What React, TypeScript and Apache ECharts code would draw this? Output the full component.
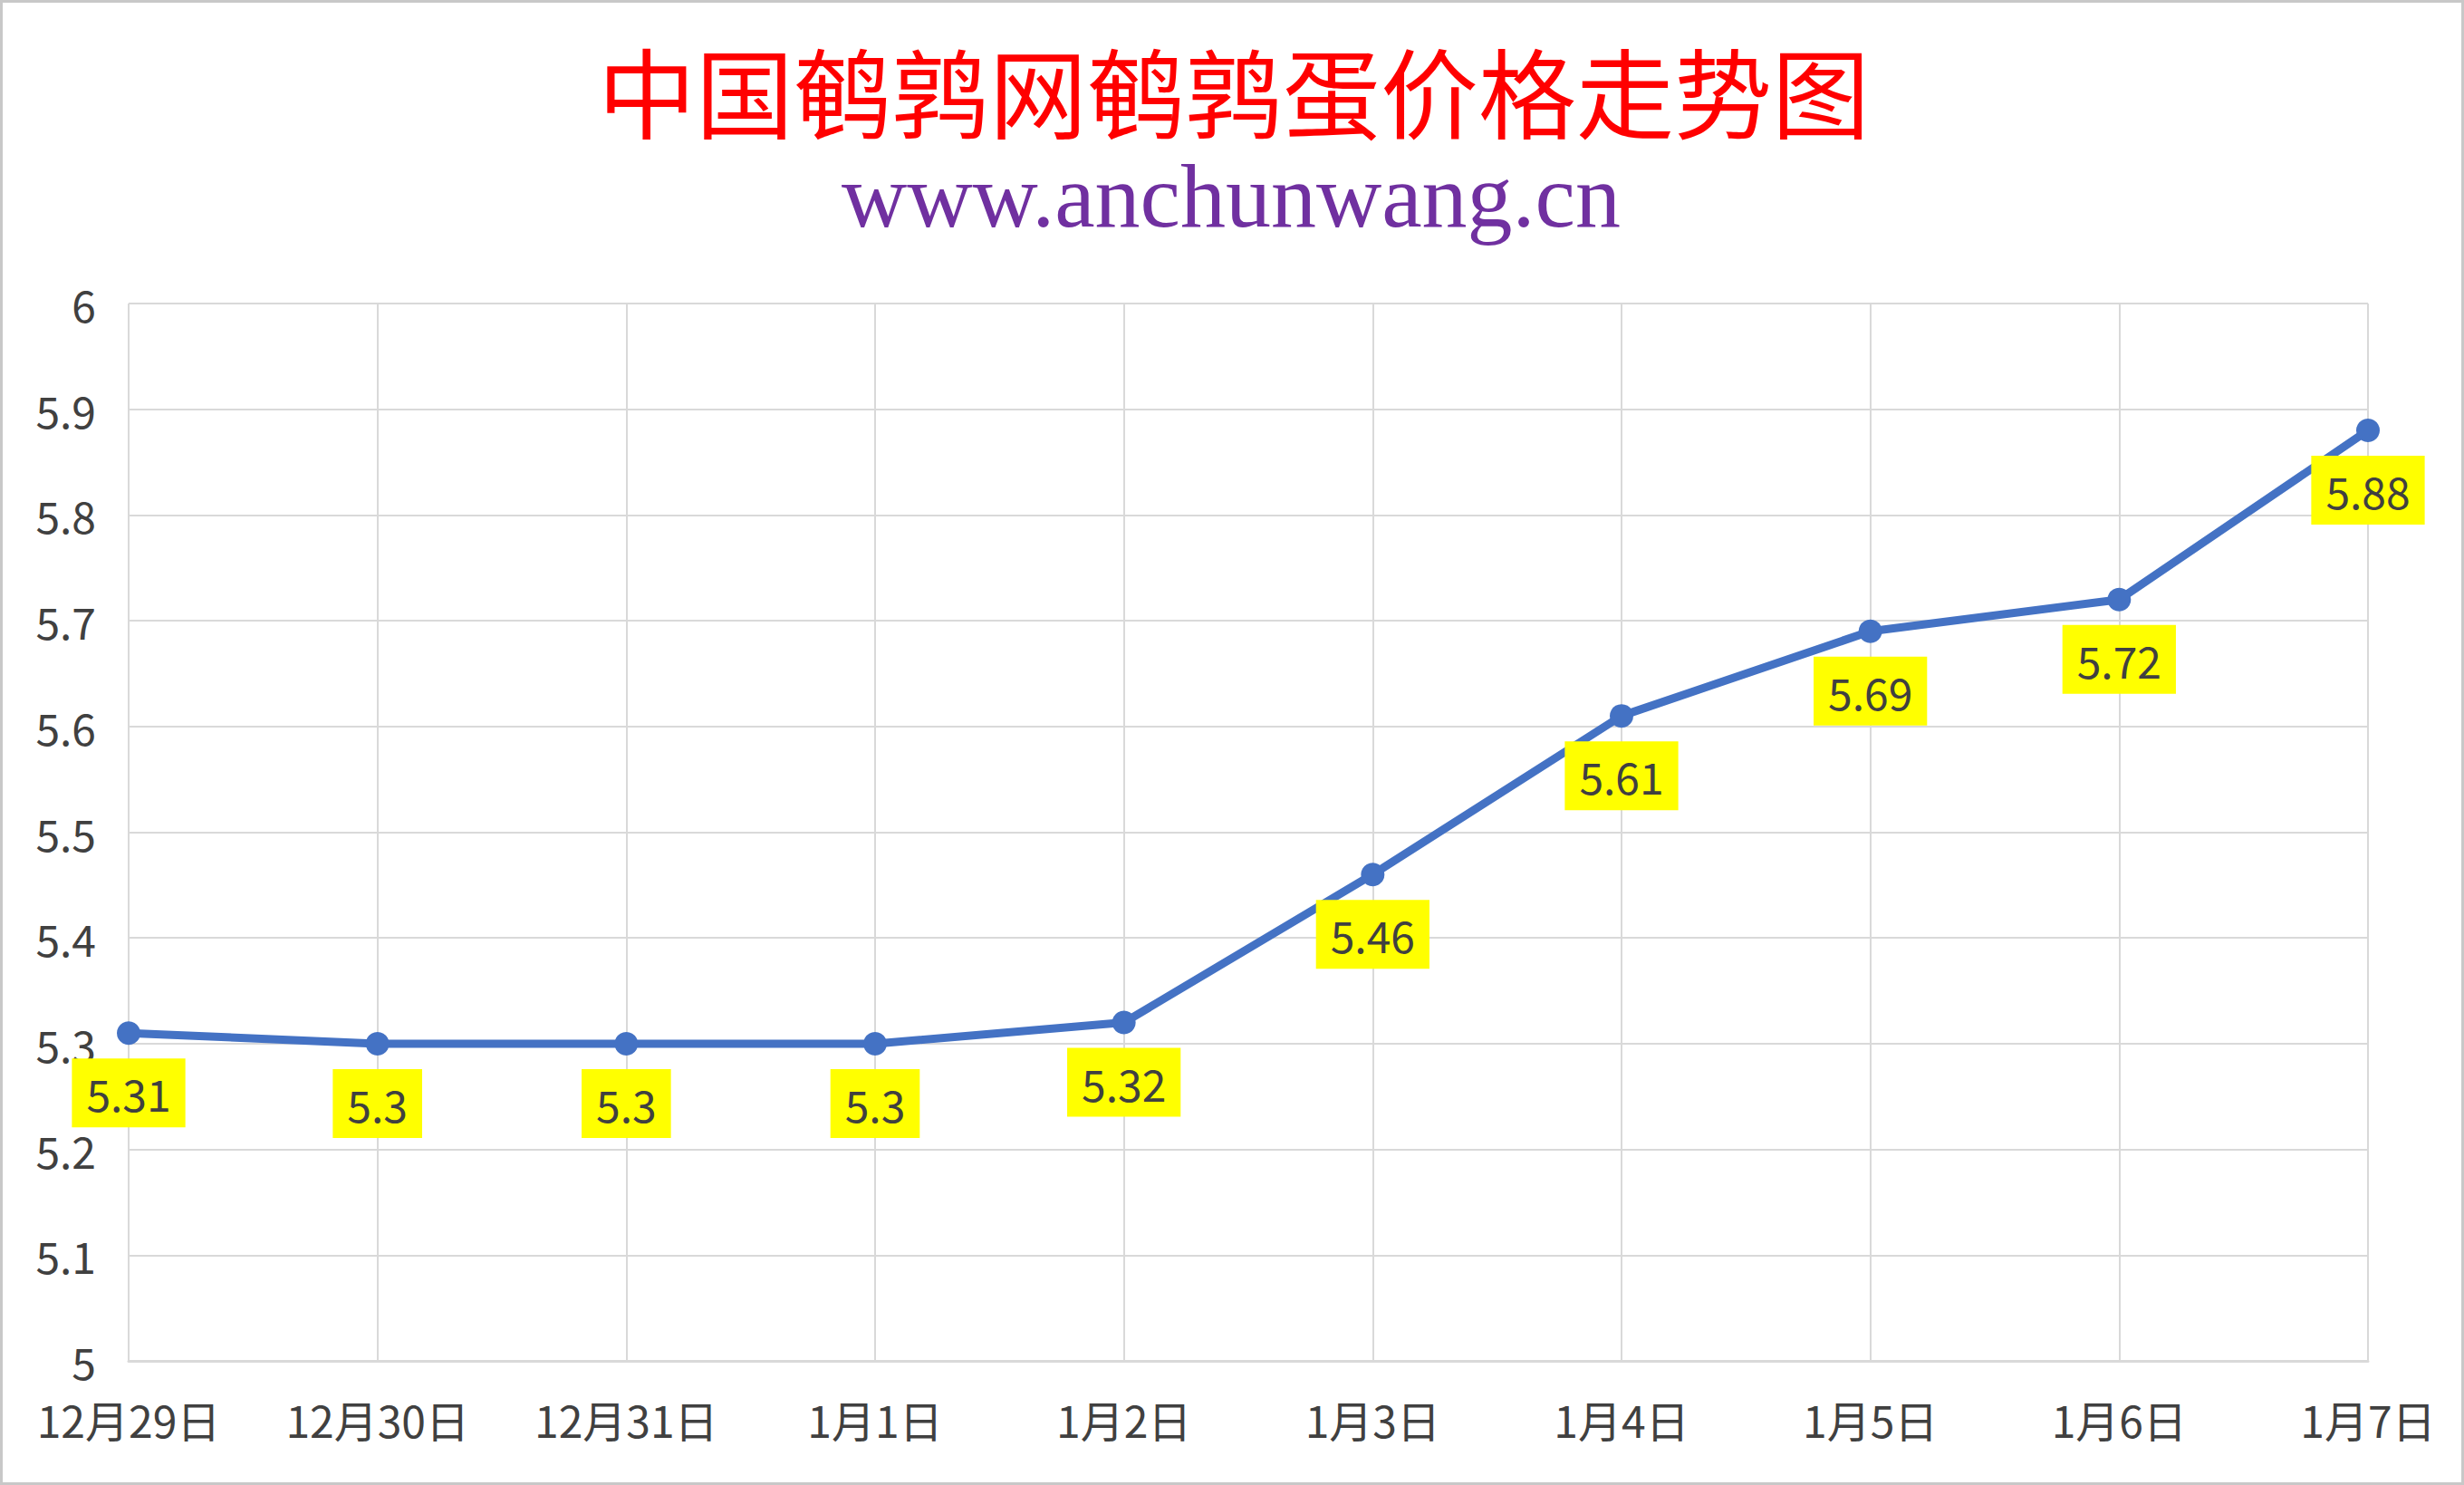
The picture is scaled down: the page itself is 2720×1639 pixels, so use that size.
import React, { useEffect, useRef } from "react";
import * as echarts from "echarts";

const categories = ["12月29日", "12月30日", "12月31日", "1月1日", "1月2日", "1月3日", "1月4日", "1月5日", "1月6日", "1月7日"];
const prices = [5.31, 5.3, 5.3, 5.3, 5.32, 5.46, 5.61, 5.69, 5.72, 5.88];
const yMin = 5;
const yMax = 6;
const yStep = 0.1;

const titleText = "中国鹌鹑网鹌鹑蛋价格走势图";
const siteText = "www.anchunwang.cn";

const FONT = "'Noto Sans CJK SC', 'Noto Sans', sans-serif";

const App: React.FC = () => {
    const chartRef = useRef<HTMLDivElement>(null);

    useEffect(() => {
        document.body.style.margin = "0";
        if (!chartRef.current) return;
        const chart = echarts.init(chartRef.current, null, { renderer: "svg" });

        const options = {
            animation: false,
            backgroundColor: "#ffffff",
            textStyle: { fontFamily: FONT },
            graphic: [
                {
                    type: "rect",
                    shape: { x: 1.5, y: 1.5, width: 2717, height: 1636 },
                    style: { fill: "none", stroke: "#c8c8c8", lineWidth: 3 },
                    silent: true,
                },
                {
                    type: "text",
                    x: 1362,
                    y: 98,
                    style: {
                        text: titleText,
                        fill: "#ff0000",
                        font: `108px ${FONT}`,
                        lineHeight: 108,
                        align: "center",
                        verticalAlign: "middle",
                    },
                },
                {
                    type: "text",
                    x: 1359,
                    y: 216,
                    style: {
                        text: siteText,
                        fill: "#7030a0",
                        font: "100px 'Liberation Serif', 'DejaVu Serif', serif",
                        lineHeight: 100,
                        align: "center",
                        verticalAlign: "middle",
                    },
                },
            ],
            grid: {
                left: 142,
                right: 106,
                top: 335,
                bottom: 137,
                containLabel: false,
            },
            xAxis: {
                type: "category",
                data: categories,
                boundaryGap: false,
                axisLine: { show: true, lineStyle: { color: "#d9d9d9", width: 3 } },
                axisTick: { show: false },
                axisLabel: {
                    color: "#404040",
                    fontSize: 48,
                    margin: 40,
                    fontFamily: FONT,
                    interval: 0,
                },
                splitLine: { show: true, lineStyle: { color: "#d9d9d9", width: 2 } },
            },
            yAxis: {
                type: "value",
                min: yMin,
                max: yMax,
                interval: yStep,
                axisLine: { show: false },
                axisTick: { show: false },
                axisLabel: {
                    color: "#404040",
                    fontSize: 48,
                    margin: 36,
                    fontFamily: FONT,
                    formatter: (v: number) => String(Math.round(v * 10) / 10),
                },
                splitLine: { show: true, lineStyle: { color: "#d9d9d9", width: 2 } },
            },
            series: [
                {
                    type: "line",
                    data: prices,
                    symbol: "circle",
                    symbolSize: 26,
                    lineStyle: { color: "#4472c4", width: 9 },
                    itemStyle: { color: "#4472c4" },
                    label: {
                        show: true,
                        position: "bottom",
                        distance: 15,
                        color: "#404040",
                        fontSize: 48,
                        fontFamily: FONT,
                        backgroundColor: "#ffff00",
                        padding: [14, 16, 14, 16],
                    },
                },
            ],
        };

        chart.setOption(options);

        return () => {
            chart.dispose();
        };
    }, []);

    return <div ref={chartRef} style={{ width: "2720px", height: "1639px" }} />;
};

export default App;
